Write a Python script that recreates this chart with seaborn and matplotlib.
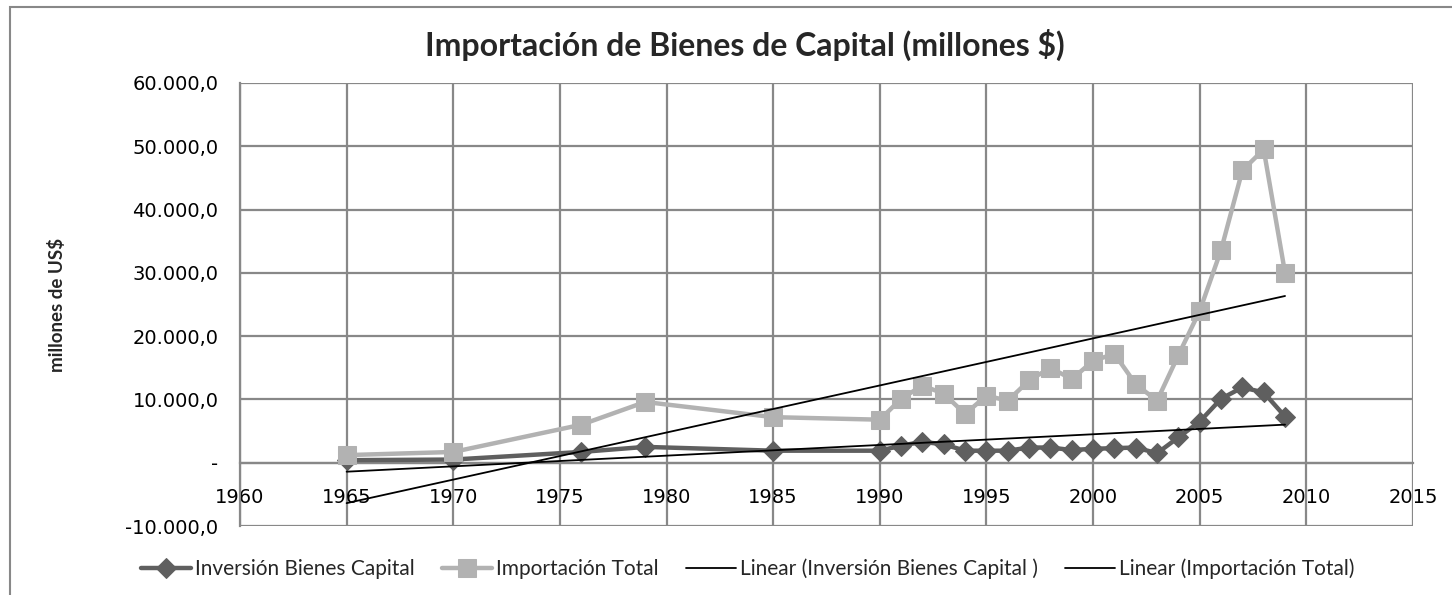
import numpy as np
import pandas as pd
import matplotlib
matplotlib.use("Agg")
import matplotlib.pyplot as plt
import seaborn as sns
from matplotlib.patches import Rectangle

# ---- data ----
years = [1965, 1970, 1976, 1979, 1985, 1990, 1991, 1992, 1993, 1994, 1995, 1996,
         1997, 1998, 1999, 2000, 2001, 2002, 2003, 2004, 2005, 2006, 2007, 2008, 2009]
inversion = [400, 500, 1700, 2500, 1900, 1900, 2700, 3300, 2900, 1900, 1900, 1900,
             2400, 2400, 2000, 2200, 2300, 2400, 1500, 4000, 6500, 10100, 11900, 11100, 7300]
importacion = [1200, 1700, 6000, 9600, 7200, 6800, 10100, 12200, 10900, 7700, 10600, 9800,
               13000, 15000, 13200, 16100, 17200, 12400, 9800, 17000, 24000, 33600, 46200, 49500, 30000]
series_names = ["Inversión Bienes Capital", "Importación Total",
                "Linear (Inversión Bienes Capital )", "Linear (Importación Total)"]
x_ticks = [1960, 1965, 1970, 1975, 1980, 1985, 1990, 1995, 2000, 2005, 2010, 2015]
y_ticks = [-10000, 0, 10000, 20000, 30000, 40000, 50000, 60000]
y_tick_labels = ["-10.000,0", "-", "10.000,0", "20.000,0", "30.000,0",
                 "40.000,0", "50.000,0", "60.000,0"]
title = "Importación de Bienes de Capital (millones $)"
y_label = "millones de US$"

df = pd.DataFrame({"year": years, "inv": inversion, "imp": importacion})

# ---- style ----
sns.set_style("white")
plt.rcParams["font.family"] = ["DejaVu Sans"]

W, H = 1452, 595
fig = plt.figure(figsize=(W / 100, H / 100), dpi=100)
ax = fig.add_axes([240 / W, 1 - 526 / H, (1413 - 240) / W, (526 - 83) / H])

GRID = "#888888"
DARK = "#5f5f5f"
LIGHT = "#b2b2b2"

sns.lineplot(data=df, x="year", y="inv", ax=ax, color=DARK, lw=3.2, marker="D",
             markersize=10, markeredgecolor=DARK, label=series_names[0], zorder=3)
sns.lineplot(data=df, x="year", y="imp", ax=ax, color=LIGHT, lw=3.2, marker="s",
             markersize=13, markeredgecolor=LIGHT, label=series_names[1], zorder=3)
sns.regplot(data=df, x="year", y="inv", ax=ax, scatter=False, ci=None, truncate=True,
            color="black", line_kws={"lw": 1.3, "zorder": 4}, label=series_names[2])
sns.regplot(data=df, x="year", y="imp", ax=ax, scatter=False, ci=None, truncate=True,
            color="black", line_kws={"lw": 1.3, "zorder": 4}, label=series_names[3])

ax.set_xlim(1960, 2015)
ax.set_ylim(-10000, 60000)
ax.set_xticks(x_ticks)
ax.set_xticklabels([str(t) for t in x_ticks])
ax.set_yticks(y_ticks)
ax.set_yticklabels(y_tick_labels)
ax.grid(True, color=GRID, lw=1.6)
ax.set_axisbelow(True)

for s in ["top", "right"]:
    ax.spines[s].set_visible(False)
ax.spines["left"].set_color(GRID)
ax.spines["left"].set_linewidth(1.6)
ax.spines["bottom"].set_position(("data", 0))
ax.spines["bottom"].set_color(GRID)
ax.spines["bottom"].set_linewidth(1.6)

ax.tick_params(axis="y", length=6.5, width=1.5, color=GRID, pad=9, labelsize=14,
               labelcolor="black")
ax.tick_params(axis="x", length=0, pad=18, labelsize=14, labelcolor="black")
ax.set_xlabel("")
ax.set_ylabel("")

fig.text(745 / W, 1 - 45 / H, title, ha="center", va="center", fontsize=23,
         fontweight="bold", family=["Lato", "DejaVu Sans"])
fig.text(57 / W, 1 - 305 / H, y_label, ha="center", va="center", rotation=90,
         fontsize=13.5, fontweight="bold", family=["Lato", "DejaVu Sans"])

handles, labels = ax.get_legend_handles_labels()
leg = ax.legend(handles, labels, loc="center", bbox_to_anchor=(748 / W, 1 - 569 / H),
                bbox_transform=fig.transFigure, ncol=4, frameon=False,
                prop={"family": ["Lato", "DejaVu Sans"], "size": 15},
                handlelength=2.4, columnspacing=1.3, handletextpad=0.2)

fig.patches.append(Rectangle((10 / W, -0.2), 1.2, 1.2 - 7 / H, transform=fig.transFigure,
                             fill=False, edgecolor=GRID, lw=1.5))

fig.savefig("out.png", dpi=100)
